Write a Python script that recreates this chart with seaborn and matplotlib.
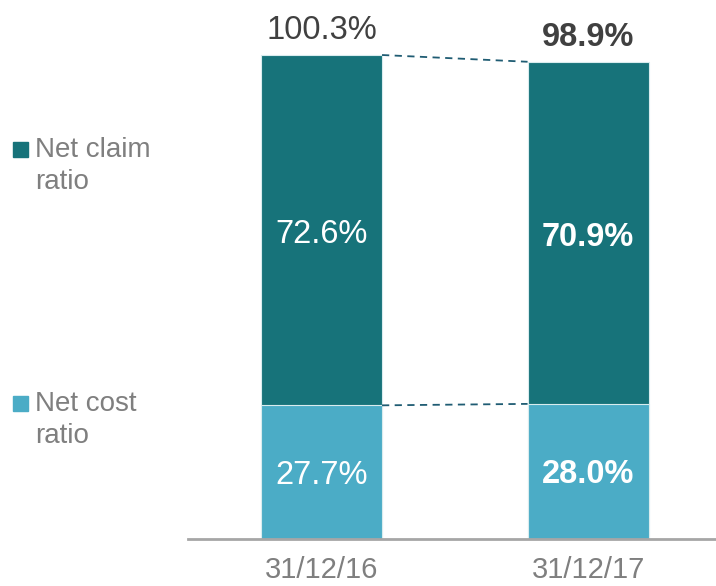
import matplotlib
matplotlib.use("Agg")
import matplotlib.pyplot as plt
from matplotlib.patches import Rectangle
import pandas as pd
import seaborn as sns

# ── data ──────────────────────────────────────────────────────────────────────
periods     = ["31/12/16", "31/12/17"]
claim_ratio = [72.6, 70.9]
cost_ratio  = [27.7, 28.0]
combined    = [100.3, 98.9]
bold_period = [False, True]

DARK  = "#17737A"
LIGHT = "#4BACC6"
GREY  = "#7F7F7F"
DASH  = "#1F5C73"

df = pd.DataFrame({"period": periods, "claim": claim_ratio,
                   "cost": cost_ratio, "total": combined})

sns.set_theme(style="white")
plt.rcParams["font.family"] = ["Liberation Sans", "DejaVu Sans"]

fig = plt.figure(figsize=(7.16, 5.86), dpi=100)
ax = fig.add_axes([188 / 716, 47 / 586, 528 / 716, 539 / 586])

W = 0.454
sns.barplot(data=df, x="period", y="total", color=DARK, width=W,
            edgecolor="#D9ECEE", linewidth=0.8, saturation=1, ax=ax)
sns.barplot(data=df, x="period", y="cost", color=LIGHT, width=W,
            edgecolor="#D9ECEE", linewidth=0.8, saturation=1, ax=ax)

ax.set_xlim(-0.501, 1.480)
ax.set_ylim(0, 111.7)

# dashed connectors
ax.plot([W / 2, 1 - W / 2], [combined[0], combined[1]], ls=(0, (4, 3)),
        color=DASH, lw=1.3)
ax.plot([W / 2, 1 - W / 2], [cost_ratio[0], cost_ratio[1]], ls=(0, (4, 3)),
        color=DASH, lw=1.3)

# value labels
LBL = 23.5
for i in range(len(periods)):
    fw = "bold" if bold_period[i] else "normal"
    ax.text(i, combined[i] + 5.0, f"{combined[i]:.1f}%", ha="center",
            va="center", fontsize=LBL, color="#404040", fontweight=fw)
    ax.text(i, cost_ratio[i] + claim_ratio[i] / 2 - 1.0, f"{claim_ratio[i]:.1f}%",
            ha="center", va="center", fontsize=LBL, color="white", fontweight=fw)
    ax.text(i, cost_ratio[i] / 2 - 0.6, f"{cost_ratio[i]:.1f}%", ha="center",
            va="center", fontsize=LBL, color="white", fontweight=fw)

# axes styling
for s in ["top", "right", "left"]:
    ax.spines[s].set_visible(False)
ax.spines["bottom"].set_color("#A6A6A6")
ax.spines["bottom"].set_linewidth(2)
ax.set_yticks([])
ax.set_xlabel("")
ax.set_ylabel("")
ax.tick_params(axis="x", length=0, pad=12, labelsize=21, labelcolor=GREY)

# legend drawn by hand
H = 586
for label, col, top in [("Net claim\nratio", DARK, 142), ("Net cost\nratio", LIGHT, 396)]:
    fig.patches.append(Rectangle((13 / 716, (H - top - 15) / H), 15 / 716, 15 / H,
                                 transform=fig.transFigure, color=col))
    fig.text(35 / 716, (H - top + 5) / H, label, ha="left", va="top",
             fontsize=20, color=GREY, linespacing=1.3)

fig.savefig("out.png", dpi=100)
